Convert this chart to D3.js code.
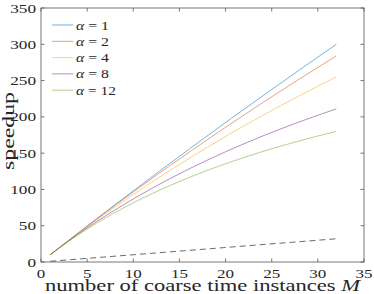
<!DOCTYPE html>
<html>
<head>
<meta charset="utf-8">
<script src="https://cdn.jsdelivr.net/npm/d3@7"></script>
<style>
 body { margin: 0; background: #fff; }
 text { font-family: "Liberation Serif", "DejaVu Serif", serif; fill: #262626; }
</style>
</head>
<body>
<div id="chart"></div>
<script>
// values
var M = [1, 2, 4, 6, 8, 12, 16, 20, 24, 28, 32];
var alphas = [1, 2, 4, 8, 12];
var speedA1 = [10, 20.0, 39.7, 59.4, 78.8, 117.2, 155.0, 192.2, 228.7, 264.6, 300.0];
var speedA2 = [10, 19.9, 39.5, 58.8, 77.8, 114.8, 150.8, 185.6, 219.4, 252.2, 284.0];
var speedA4 = [10, 19.8, 39.0, 57.6, 75.6, 110.0, 142.4, 173.0, 201.8, 229.1, 255.0];
var speedA8 = [10, 19.7, 38.1, 55.4, 71.6, 101.4, 128.0, 151.9, 173.5, 193.1, 211.0];
var speedA12 = [10, 19.5, 37.2, 53.3, 68.0, 94.0, 116.2, 135.4, 152.2, 166.9, 180.0];
var dashM = [1, 32];
var dashVal = [1, 32];
var xTicks = [0, 5, 10, 15, 20, 25, 30, 35];
var yTicks = [0, 50, 100, 150, 200, 250, 300, 350];
var colors = ["#0072BD", "#D95319", "#EDB120", "#7E2F8E", "#77AC30"];

var series = [speedA1, speedA2, speedA4, speedA8, speedA12];

var w = 374, h = 294;
var pl = 41, pr = 364, pt = 8, pb = 262;

var svg = d3.select("#chart").append("svg").attr("width", w).attr("height", h);

var x = d3.scaleLinear().domain([0, 35]).range([pl, pr]);
var y = d3.scaleLinear().domain([0, 350]).range([pb, pt]);

// box with inward ticks on all sides
var axisCol = "#555";
svg.append("rect").attr("x", pl).attr("y", pt)
  .attr("width", pr - pl).attr("height", pb - pt)
  .attr("fill", "none").attr("stroke", axisCol).attr("stroke-width", 0.8);

var tl = 3.5;
xTicks.forEach(function(t){
  svg.append("line").attr("x1", x(t)).attr("x2", x(t)).attr("y1", pb).attr("y2", pb - tl)
    .attr("stroke", axisCol).attr("stroke-width", 0.8);
  svg.append("line").attr("x1", x(t)).attr("x2", x(t)).attr("y1", pt).attr("y2", pt + tl)
    .attr("stroke", axisCol).attr("stroke-width", 0.8);
  svg.append("text").attr("x", x(t)).attr("y", 278)
    .attr("text-anchor", "middle").attr("font-size", 13)
    .attr("textLength", String(t).length * 8.5).attr("lengthAdjust", "spacingAndGlyphs")
    .text(t);
});
yTicks.forEach(function(t){
  svg.append("line").attr("x1", pl).attr("x2", pl + tl).attr("y1", y(t)).attr("y2", y(t))
    .attr("stroke", axisCol).attr("stroke-width", 0.8);
  svg.append("line").attr("x1", pr).attr("x2", pr - tl).attr("y1", y(t)).attr("y2", y(t))
    .attr("stroke", axisCol).attr("stroke-width", 0.8);
  svg.append("text").attr("x", 36).attr("y", y(t) + 4.5)
    .attr("text-anchor", "end").attr("font-size", 13)
    .attr("textLength", String(t).length * 8.6).attr("lengthAdjust", "spacingAndGlyphs")
    .text(t);
});

// labels
var xl = svg.append("text").attr("x", 45).attr("y", 291).attr("font-size", 16)
  .attr("textLength", 315).attr("lengthAdjust", "spacingAndGlyphs");
xl.append("tspan").text("number of coarse time instances ");
xl.append("tspan").attr("font-style", "italic").text("M");

svg.append("text").attr("transform", "translate(14,131) rotate(-90)")
  .attr("text-anchor", "middle").attr("font-size", 16)
  .attr("textLength", 78).attr("lengthAdjust", "spacingAndGlyphs")
  .text("speedup");

// lines
var line = d3.line()
  .x(function(d){ return x(d[0]); })
  .y(function(d){ return y(d[1]); })
  .curve(d3.curveMonotoneX);

series.forEach(function(s, i){
  svg.append("path")
    .datum(M.map(function(m, j){ return [m, s[j]]; }))
    .attr("d", line)
    .attr("fill", "none")
    .attr("stroke", colors[i])
    .attr("stroke-opacity", 0.55)
    .attr("stroke-width", 1);
});

svg.append("path")
  .datum(dashM.map(function(m, j){ return [m, dashVal[j]]; }))
  .attr("d", line)
  .attr("fill", "none")
  .attr("stroke", "#444")
  .attr("stroke-width", 0.8)
  .attr("stroke-dasharray", "6,4");

// legend
alphas.forEach(function(a, i){
  var ly = 25 + i * 16.3;
  svg.append("line").attr("x1", 52).attr("x2", 73).attr("y1", ly).attr("y2", ly)
    .attr("stroke", colors[i]).attr("stroke-opacity", 0.55).attr("stroke-width", 1);
  var t = svg.append("text").attr("x", 76).attr("y", ly + 4.5).attr("font-size", 13)
    .attr("textLength", a >= 10 ? 40 : 33).attr("lengthAdjust", "spacingAndGlyphs");
  t.append("tspan").attr("font-style", "italic").text("α");
  t.append("tspan").text(" = " + a);
});
</script>
</body>
</html>
